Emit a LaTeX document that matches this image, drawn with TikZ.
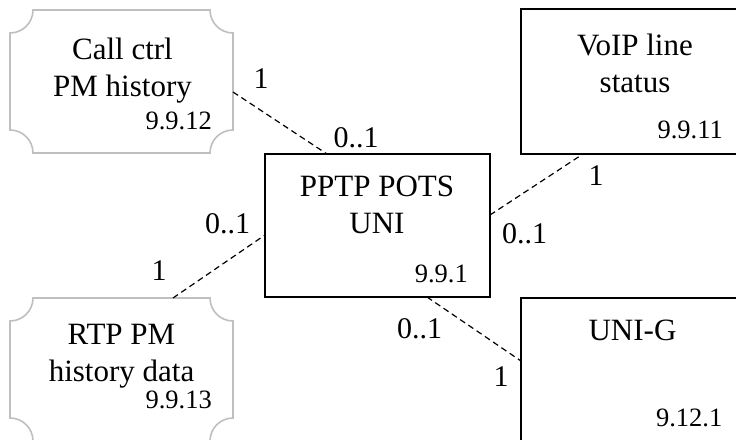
\documentclass[tikz,border=0pt]{standalone}
\usepackage{fontspec}
\setmainfont{Liberation Serif}
\usetikzlibrary{calc}
\tikzset{
  boxnode/.style={draw=black, line width=1.6pt, minimum width=225pt, minimum height=143pt, inner sep=0pt, outer sep=0pt},
  scoopnode/.style={draw=none, minimum width=223pt, minimum height=143pt, inner sep=0pt, outer sep=0pt},
  scoopline/.style={draw=gray!50, line width=1.6pt},
  titletext/.style={align=center, anchor=base, inner sep=0pt, font=\fontsize{31}{37}\selectfont},
  numtext/.style={anchor=base east, inner sep=0pt, font=\fontsize{26.5}{30}\selectfont},
  multtext/.style={anchor=base, inner sep=0pt, font=\fontsize{30}{34}\selectfont},
  link/.style={draw=black, line width=1.2pt, dash pattern=on 6pt off 4pt}
}
\newcommand\scoopoutline[1]{%
  \path[scoopline] ([xshift=23pt]#1.north west) -- ([xshift=-23pt]#1.north east)
    arc[start angle=180, end angle=270, radius=23pt]
    -- ([yshift=23pt]#1.south east)
    arc[start angle=90, end angle=180, radius=23pt]
    -- ([xshift=23pt]#1.south west)
    arc[start angle=0, end angle=90, radius=23pt]
    -- ([yshift=-23pt]#1.north west)
    arc[start angle=270, end angle=360, radius=23pt] -- cycle;}
\begin{document}
\begin{tikzpicture}[x=1pt, y=-1pt]
\useasboundingbox (0,0) rectangle (736,439);
\clip (0,0) rectangle (736,439);
% boxes
\node[scoopnode] (cc) at (121.5,81.5) {};
\scoopoutline{cc}
\node[scoopnode] (rtp) at (121.5,369.5) {};
\scoopoutline{rtp}
\node[boxnode] (pp) at (377.5,225.5) {};
\node[boxnode, minimum height=145pt] (voip) at (633.5,81.5) {};
\node[boxnode] (unig) at (633.5,369.5) {};
% texts (anchor = baseline of last line)
\node[titletext] (cct) at (122.5,96) {Call ctrl\\PM history};
\node[numtext] (ccn) at (212,129) {9.9.12};
\node[titletext] (rtpt) at (121.5,381) {RTP PM\\history data};
\node[numtext] (rtpn) at (212,408) {9.9.13};
\node[titletext] (ppt) at (377,233) {PPTP POTS\\UNI};
\node[numtext] (ppn) at (468,282.5) {9.9.1};
\node[titletext] (voipt) at (635,92) {VoIP line\\status};
\node[numtext] (voipn) at (723,138.5) {9.9.11};
\node[titletext] (unigt) at (632.5,340) {UNI-G};
\node[numtext] (unign) at (722.5,426) {9.12.1};
% connectors
\draw[link] ([yshift=-10.5pt]cc.east) -- ([xshift=-50.5pt]pp.north);
\draw[link] ([xshift=51.5pt]rtp.north) -- ([yshift=-9.5pt]pp.west);
\draw[link] ([yshift=10.5pt]pp.east) -- ([xshift=-50.5pt]voip.south);
\draw[link] ([xshift=49.5pt]pp.south) -- ([yshift=8.5pt]unig.west);
% multiplicities
\node[multtext] (m1) at (261,88) {1};
\node[multtext] (m2) at (356,147) {0..1};
\node[multtext] (m3) at (227.5,233) {0..1};
\node[multtext] (m4) at (159,280) {1};
\node[multtext] (m5) at (524.5,243) {0..1};
\node[multtext] (m6) at (596,185) {1};
\node[multtext] (m7) at (419.5,338) {0..1};
\node[multtext] (m8) at (501,386) {1};
\end{tikzpicture}
\end{document}
